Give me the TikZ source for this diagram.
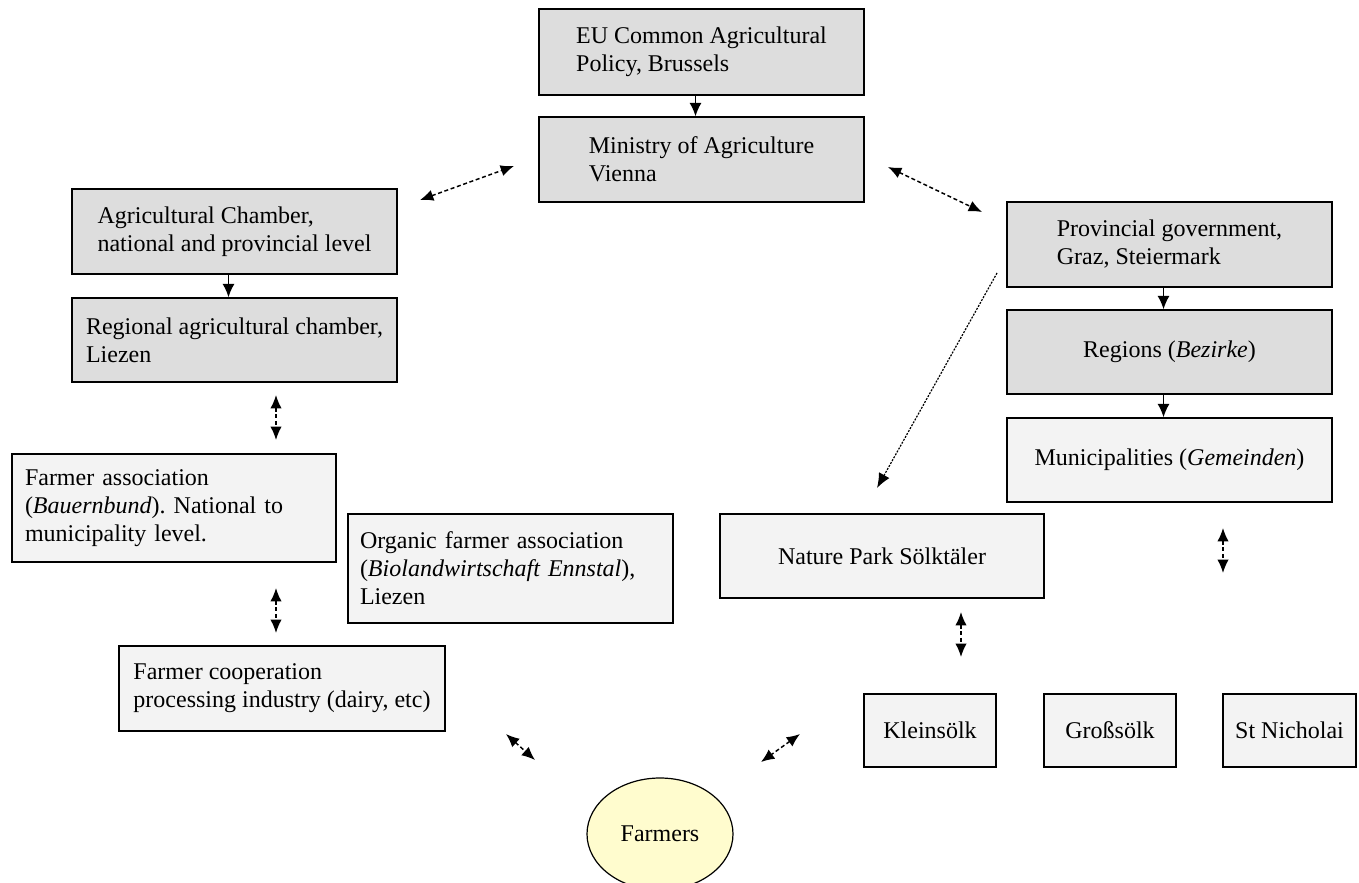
\documentclass[tikz,border=0pt]{standalone}
\usepackage{fontspec}
\setmainfont{Liberation Serif}
\usepackage{xcolor}
\usepackage{tikz}
\usetikzlibrary{arrows.meta,shapes.geometric}

\definecolor{darkbox}{RGB}{221,221,221}
\definecolor{lightbox}{RGB}{243,243,243}
\definecolor{farmfill}{RGB}{255,252,206}

\begin{document}
\frenchspacing
\begin{tikzpicture}[x=0.75pt,y=0.75pt,yscale=-1,xscale=1,
  box/.style={draw, line width=1.1pt, fill=#1, minimum width=243.75pt, minimum height=63.75pt,
    align=left, inner sep=0.75pt, font=\fontsize{18}{21}\selectfont},
  box/.default=lightbox,
  smallbox/.style={box, minimum width=99pt, minimum height=54.75pt},
  solidarr/.style={line width=1.1pt, -{Latex[length=10pt,width=9pt]}},
  dasharr/.style={line width=1.1pt, dash pattern=on 3pt off 2pt,
    {Latex[length=10pt,width=8.5pt]}-{Latex[length=10pt,width=8.5pt]}},
  dotarr/.style={line width=0.9pt, dash pattern=on 1.5pt off 1pt, -{Latex[length=11pt,width=9pt]}}]
\useasboundingbox (0,0) rectangle (1359,882);

% Text Node
\node [box=darkbox, minimum height=64.5pt] (eu) at (701.5,52) {EU Common Agricultural\\Policy, Brussels};
% Text Node
\node [box=darkbox] (min) at (701.5,159.5) {Ministry of Agriculture\\Vienna};
% Text Node
\node [box=darkbox] (agri) at (234.5,231.5) {Agricultural Chamber,\\national and provincial level};
% Text Node
\node [box=darkbox, minimum height=63pt] (regagri) at (234.5,340) {Regional agricultural chamber,\\Liezen};
% Text Node
\node [box, minimum width=243pt, minimum height=81pt, text width=223.5pt, inner xsep=9.75pt] (farmassoc) at (174,508) {Farmer association\\(\textit{Bauernbund}). National to\\municipality level.};
% Text Node
\node [box, minimum height=81.75pt, text width=225.75pt, inner xsep=9pt] (organic) at (510.5,568.5) {Organic farmer association\\(\textit{Biolandwirtschaft Ennstal}),\\Liezen};
% Text Node
\node [box, minimum width=244.5pt] (coop) at (282,688.5) {Farmer cooperation\\processing industry (dairy, etc)};
% Text Node
\node [box=darkbox] (prov) at (1169.5,244.5) {Provincial government,\\Graz, Steiermark};
% Text Node
\node [box=darkbox, minimum height=63pt] (regions) at (1169.5,352) {Regions (\textit{Bezirke})};
% Text Node
\node [box, minimum height=63pt] (munic) at (1169.5,460) {Municipalities (\textit{Gemeinden})};
% Text Node
\node [box, minimum width=243pt, minimum height=63pt] (nature) at (882,556) {Nature Park Sölktäler};
% Text Node
\node [smallbox] (klein) at (930,730.5) {Kleinsölk};
% Text Node
\node [smallbox] (gross) at (1110,730.5) {Großsölk};
% Text Node
\node [smallbox, minimum width=99.75pt] (stn) at (1289.5,730.5) {St Nicholai};
% Ellipse
\node [ellipse, draw, line width=0.9pt, fill=farmfill, minimum width=109.5pt, minimum height=84pt,
  inner sep=0.75pt, font=\fontsize{18}{21}\selectfont] (farmers) at (660,834) {Farmers};

% free ends of the floating connectors
\coordinate (lwA) at (420,200);
\coordinate (lwB) at (514,166);
\coordinate (rwA) at (888,167);
\coordinate (rwB) at (982,212);
\coordinate (npA) at (997,273);
\coordinate (npB) at (877,488);
\coordinate (faA) at (276,395);
\coordinate (faB) at (276,440);
\coordinate (fcA) at (276,588);
\coordinate (fcB) at (276,633);
\coordinate (muA) at (1223,528);
\coordinate (muB) at (1223,573);
\coordinate (nsA) at (961,612);
\coordinate (nsB) at (961,657);
\coordinate (flA) at (506,734);
\coordinate (flB) at (535,760);
\coordinate (frA) at (800,734);
\coordinate (frB) at (761,762);

%Straight Lines
\draw [solidarr] ([xshift=-4.5pt]eu.south) -- ([xshift=-4.5pt]min.north);
\draw [solidarr] ([xshift=-4.5pt]agri.south) -- ([xshift=-4.5pt]regagri.north);
\draw [solidarr] ([xshift=-4.5pt]prov.south) -- ([xshift=-4.5pt]regions.north);
\draw [solidarr] ([xshift=-4.5pt]regions.south) -- ([xshift=-4.5pt]munic.north);
%Straight Lines
\draw [dasharr] (lwA) -- (lwB);
\draw [dasharr] (rwA) -- (rwB);
\draw [dotarr] (npA) -- (npB);
%Straight Lines
\draw [dasharr] (faA) -- (faB);
\draw [dasharr] (fcA) -- (fcB);
\draw [dasharr] (muA) -- (muB);
\draw [dasharr] (nsA) -- (nsB);
\draw [dasharr] (flA) -- (flB);
\draw [dasharr] (frA) -- (frB);

\end{tikzpicture}
\end{document}
